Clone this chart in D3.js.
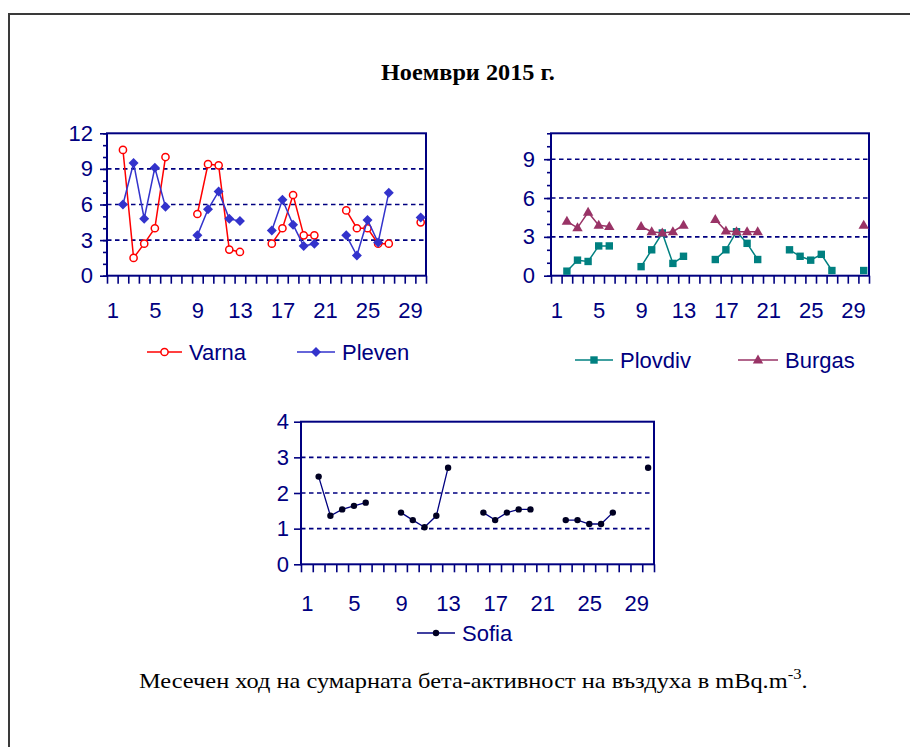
<!DOCTYPE html>
<html><head><meta charset="utf-8">
<script src="https://cdn.jsdelivr.net/npm/d3@7"></script>
<style>body{margin:0;background:#fff} svg{display:block}</style>
</head><body><svg id="c" width="910" height="747"></svg>
<script>
// ---- data ----
const days = d3.range(1, 31);
const xTickLabels = [1, 5, 9, 13, 17, 21, 25, 29];
const varna   = [null,10.6,1.5,2.7,4.0,10.0,null,null,5.2,9.4,9.3,2.2,2.0,null,null,2.7,4.0,6.8,3.4,3.4,null,null,5.5,4.0,4.0,2.7,2.7,null,null,4.5];
const pleven  = [null,6.0,9.5,4.8,9.1,5.8,null,null,3.4,5.6,7.1,4.8,4.6,null,null,3.8,6.4,4.3,2.5,2.7,null,null,3.4,1.7,4.7,2.8,7.0,null,null,4.9];
const plovdiv = [null,0.35,1.2,1.1,2.3,2.3,null,null,0.7,2.0,3.3,0.95,1.5,null,null,1.25,2.0,3.4,2.5,1.25,null,null,2.0,1.5,1.2,1.65,0.4,null,null,0.4];
const burgas  = [null,4.2,3.7,4.9,3.9,3.8,null,null,3.8,3.4,3.3,3.4,3.9,null,null,4.35,3.45,3.4,3.4,3.4,null,null,null,null,null,null,null,null,null,3.9];
const sofia   = [null,2.46,1.36,1.54,1.64,1.73,null,null,1.45,1.24,1.04,1.36,2.71,null,null,1.45,1.24,1.45,1.54,1.54,null,null,1.24,1.24,1.13,1.13,1.45,null,null,2.71];
const titleText = "Ноември 2015 г.";
const captionText = "Месечен ход на сумарната бета-активност на въздуха в mBq.m";

// ---- drawing ----
const NAVY = "#000080";
const svg = d3.select("#c");
svg.append("rect").attr("x", 9).attr("y", 14).attr("width", 960).attr("height", 800)
  .attr("fill", "none").attr("stroke", "#3a3a3a").attr("stroke-width", 2);

const markers = {
  circle: g => g.append("circle").attr("r", 3.6).attr("fill", "#fff").attr("stroke-width", 1.5),
  diamond: g => g.append("path").attr("d", "M0,-5L5,0L0,5L-5,0Z"),
  square: g => g.append("path").attr("d", "M-3.7,-3.7H3.7V3.7H-3.7Z"),
  triangle: g => g.append("path").attr("d", "M0,-5.5L5.2,3.5H-5.2Z"),
  dot: g => g.append("circle").attr("r", 3.2)
};

function panel(cfg) {
  const x = d3.scaleLinear().domain([0.5, 30.5]).range([cfg.x0, cfg.x1]);
  const y = d3.scaleLinear().domain([0, cfg.yMax]).range([cfg.yB, cfg.yT]);
  const g = svg.append("g");
  // grid
  g.selectAll(".grid").data(cfg.grid).join("line")
    .attr("x1", cfg.x0).attr("x2", cfg.x1).attr("y1", d => y(d)).attr("y2", d => y(d))
    .attr("stroke", NAVY).attr("stroke-width", 1.6).attr("stroke-dasharray", "4.5,3.5");
  // border
  g.append("rect").attr("x", cfg.x0).attr("y", cfg.yT).attr("width", cfg.x1 - cfg.x0).attr("height", cfg.yB - cfg.yT)
    .attr("fill", "none").attr("stroke", NAVY).attr("stroke-width", 2);
  // x boundary ticks
  const xt = g.append("g").attr("transform", `translate(0,${cfg.yB})`)
    .call(d3.axisBottom(x).tickValues(d3.range(0.5, 31, 1)).tickSize(8).tickFormat(""));
  xt.select(".domain").remove();
  xt.selectAll("line").attr("stroke", NAVY).attr("stroke-width", 1.6);
  // x labels
  const xl = g.append("g").attr("transform", `translate(0,${cfg.yB})`)
    .call(d3.axisBottom(x).tickValues(xTickLabels).tickSize(0).tickPadding(cfg.xPad).tickFormat(d3.format("d")));
  xl.select(".domain").remove();
  xl.selectAll("text").attr("fill", NAVY).style("font", "22px 'Liberation Sans', Arial, sans-serif");
  // y minor ticks
  if (cfg.minor) {
    const ym = g.append("g").attr("transform", `translate(${cfg.x0},0)`)
      .call(d3.axisLeft(y).tickValues(d3.range(0, cfg.yMax + 1)).tickSize(4).tickFormat(""));
    ym.select(".domain").remove();
    ym.selectAll("line").attr("stroke", NAVY).attr("stroke-width", 1.6);
  }
  const ya = g.append("g").attr("transform", `translate(${cfg.x0},0)`)
    .call(d3.axisLeft(y).tickValues(cfg.majors).tickSize(7).tickPadding(cfg.yPad).tickFormat(d3.format("d")));
  ya.select(".domain").remove();
  ya.selectAll("line").attr("stroke", NAVY).attr("stroke-width", 1.6);
  ya.selectAll("text").attr("fill", NAVY).style("font", "22px 'Liberation Sans', Arial, sans-serif");

  // series
  cfg.series.forEach(s => {
    const pts = days.map((d, i) => ({ d, v: s.values[i] }));
    const line = d3.line().defined(p => p.v != null).x(p => x(p.d)).y(p => y(p.v));
    g.append("path").datum(pts).attr("d", line).attr("fill", "none")
      .attr("stroke", s.color).attr("stroke-width", s.lw || 1.5);
    pts.filter(p => p.v != null).forEach(p => {
      const m = g.append("g").attr("transform", `translate(${x(p.d)},${y(p.v)})`)
        .attr("fill", s.fill || s.color).attr("stroke", s.color);
      markers[s.marker](m);
      if (s.marker !== "circle") m.attr("stroke", "none");
    });
  });
  // legend
  cfg.legend.forEach((L, i) => {
    const s = cfg.series[i];
    const lg = g.append("g").attr("transform", `translate(${L[0]},${L[1]})`);
    lg.append("line").attr("x1", 0).attr("x2", L[2]).attr("stroke", s.color).attr("stroke-width", 1.5);
    const m = lg.append("g").attr("transform", `translate(${L[2] / 2},0)`)
      .attr("fill", s.fill || s.color).attr("stroke", s.color);
    markers[s.marker](m);
    if (s.marker !== "circle") m.attr("stroke", "none");
    lg.append("text").attr("x", L[2] + 7).attr("y", 0).attr("dy", "0.36em")
      .attr("fill", NAVY).style("font", "22px 'Liberation Sans', Arial, sans-serif").text(s.name);
  });
}

panel({ x0: 107, x1: 426, yT: 133.3, yB: 275.7, yMax: 12, majors: [0, 3, 6, 9, 12], grid: [3, 6, 9],
  minor: true, xPad: 27, yPad: 7,
  series: [
    { name: "Varna", values: varna, color: "#ff0000", marker: "circle", fill: "#fff" },
    { name: "Pleven", values: pleven, color: "#3333cc", marker: "diamond" }
  ],
  legend: [[147, 352, 35], [297, 352, 38]] });

panel({ x0: 551, x1: 869, yT: 133.3, yB: 275.7, yMax: 11, majors: [0, 3, 6, 9], grid: [3, 6, 9],
  minor: true, xPad: 27, yPad: 9,
  series: [
    { name: "Plovdiv", values: plovdiv, color: "#008080", marker: "square" },
    { name: "Burgas", values: burgas, color: "#993366", marker: "triangle" }
  ],
  legend: [[575, 360, 38], [738, 360, 40]] });

panel({ x0: 301, x1: 654, yT: 421.7, yB: 564.3, yMax: 4, majors: [0, 1, 2, 3, 4], grid: [1, 2, 3],
  minor: false, xPad: 31, yPad: 5,
  series: [
    { name: "Sofia", values: sofia, color: "#000080", marker: "dot", fill: "#000022", lw: 1.3 }
  ],
  legend: [[417, 633, 38]] });

// title & caption
function fit(t, x0, x1) {
  const bb = t.node().getBBox();
  const s = (x1 - x0) / bb.width;
  t.attr("transform", `translate(${x0},0) scale(${s},1) translate(${-bb.x},0)`);
}
const title = svg.append("text").attr("x", 0).attr("y", 80)
  .style("font", "bold 23px 'Liberation Serif', 'Times New Roman', serif").attr("fill", "#000").text(titleText);
fit(title, 381, 555);
const cap = svg.append("text").attr("x", 0).attr("y", 688)
  .style("font", "22px 'Liberation Serif', 'Times New Roman', serif").attr("fill", "#000");
cap.append("tspan").text(captionText);
cap.append("tspan").attr("dy", -9).style("font-size", "15px").text("-3");
cap.append("tspan").attr("dy", 9).text(".");
fit(cap, 139, 808);
</script></body></html>
